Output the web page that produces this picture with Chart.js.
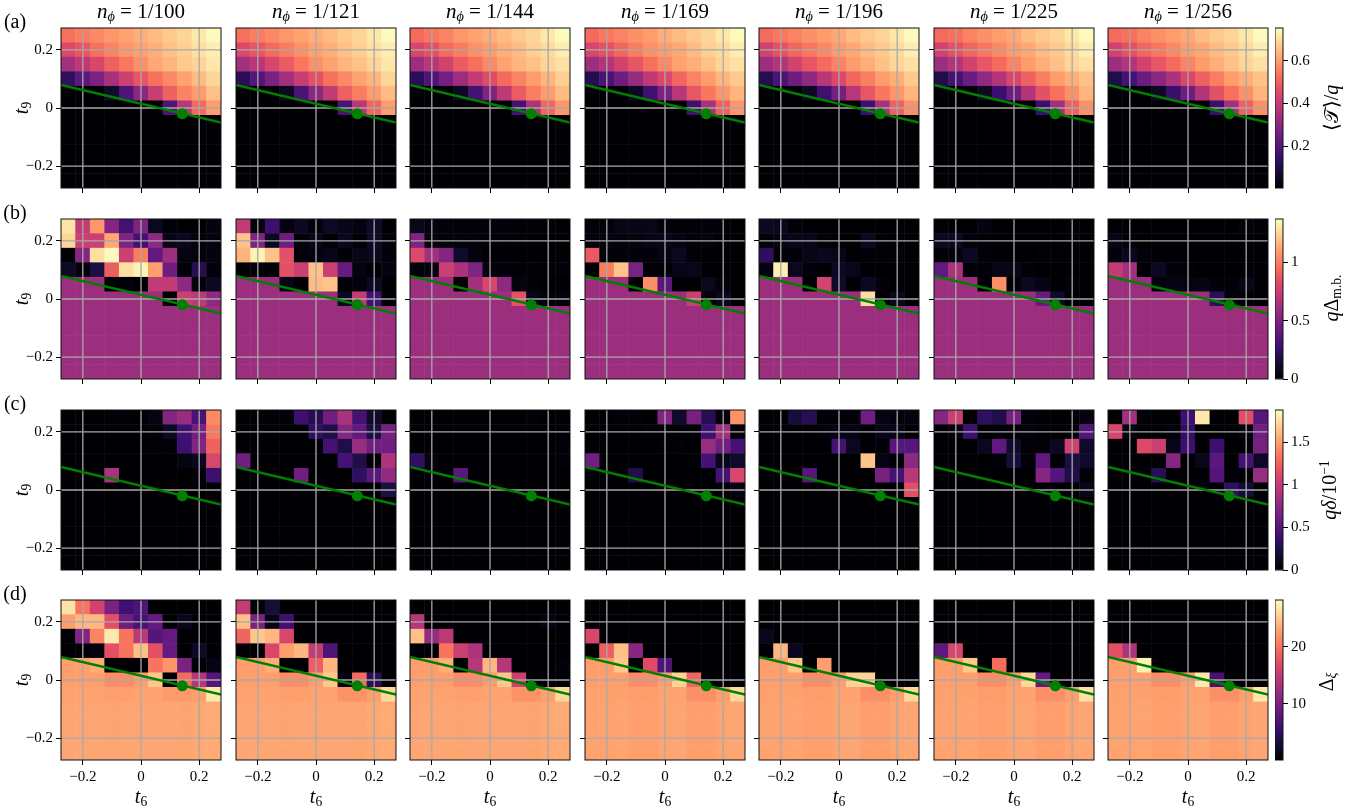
<!DOCTYPE html>
<html>
<head>
<meta charset="utf-8">
<title>Phase diagrams</title>
<script src="https://cdn.jsdelivr.net/npm/chart.js@4/dist/chart.umd.min.js"></script>
<style>
  html, body { margin: 0; padding: 0; background: #fff; }
  #figure { position: relative; width: 1367px; height: 810px; overflow: hidden; font-family: "Liberation Serif", serif; color: #000; }
  #figure canvas { position: absolute; }
  .lbl { position: absolute; white-space: nowrap; transform: translate(-50%, -50%); line-height: 1; }
  .rot { transform: translate(-50%, -50%) rotate(-90deg); }
  .lbl sub, .lbl sup { font-size: .68em; line-height: 0; }
  .lbl sub { vertical-align: -.25em; }
  .lbl sup { vertical-align: .5em; }
</style>
</head>
<body>
<div id="figure"></div>
<script>
// cell centres and ticks
const t6Cells = [-0.25, -0.2, -0.15, -0.1, -0.05, 0, 0.05, 0.1, 0.15, 0.2, 0.25];
const t9Cells = [0.25, 0.2, 0.15, 0.1, 0.05, 0, -0.05, -0.1, -0.15, -0.2, -0.25];
const axisLimits = [-0.275, 0.275];
const tickValues = [-0.2, 0, 0.2];
const xTickLabels = ['\u22120.2', '0', '0.2'];
const yTickLabels = ['\u22120.2', '0', '0.2'];
const fluxTitles = ['1/100', '1/121', '1/144', '1/169', '1/196', '1/225', '1/256'];
const rowTags = ['(a)', '(b)', '(c)', '(d)'];

// green phase boundary and marker
const boundaryT6 = [-0.275, 0.275];
const boundaryT9 = [0.079, -0.05];
const markerT6 = [0.142];
const markerT9 = [-0.02];

// colour bars
const barRanges = [[0.003, 0.755], [0, 1.37], [0, 1.88], [0.1, 28.2]];
const barTicks = [[0.2, 0.4, 0.6], [0, 0.5, 1], [0, 0.5, 1, 1.5], [10, 20]];
const barTickLabels = [['0.2', '0.4', '0.6'], ['0', '0.5', '1'], ['0', '0.5', '1', '1.5'], ['10', '20']];

const blank = [0, 0, 0, 0, 0, 0, 0, 0, 0, 0, 0];

// row (a): <T>/q
const trace100 = [
  [.53, .55, .57, .59, .61, .63, .65, .67, .69, .72, .75],
  [.45, .48, .53, .56, .59, .61, .63, .66, .68, .71, .73],
  [.34, .39, .44, .50, .54, .58, .62, .64, .67, .69, .72],
  [.13, .21, .27, .35, .42, .48, .53, .57, .61, .65, .69],
  [0, 0, 0, .06, .19, .30, .41, .50, .56, .60, .66],
  [0, 0, 0, 0, 0, 0, 0, .19, .38, .52, .60],
  blank, blank, blank, blank, blank];
const trace121 = [
  [.53, .55, .57, .59, .61, .63, .65, .67, .69, .72, .75],
  [.45, .48, .52, .55, .58, .61, .63, .66, .68, .71, .73],
  [.34, .38, .44, .49, .54, .58, .61, .64, .66, .69, .72],
  [.12, .20, .27, .34, .41, .47, .53, .57, .61, .64, .69],
  [0, 0, 0, .05, .18, .30, .40, .50, .55, .60, .65],
  [0, 0, 0, 0, 0, 0, 0, .18, .38, .51, .60],
  blank, blank, blank, blank, blank];
const trace144 = [
  [.52, .54, .56, .59, .61, .63, .65, .67, .69, .72, .75],
  [.44, .47, .52, .55, .58, .60, .63, .65, .68, .70, .73],
  [.33, .38, .43, .49, .53, .57, .61, .64, .66, .69, .71],
  [.12, .19, .26, .33, .40, .46, .52, .56, .60, .64, .68],
  [0, 0, 0, .05, .17, .28, .39, .49, .55, .60, .65],
  [0, 0, 0, 0, 0, 0, 0, .17, .36, .51, .59],
  blank, blank, blank, blank, blank];
const trace169 = [
  [.52, .54, .56, .58, .60, .63, .65, .67, .69, .72, .75],
  [.44, .47, .51, .55, .58, .60, .62, .65, .68, .70, .73],
  [.33, .37, .43, .48, .53, .57, .61, .63, .66, .69, .71],
  [.11, .18, .25, .32, .39, .45, .51, .56, .60, .64, .67],
  [0, 0, 0, .05, .16, .27, .38, .48, .54, .59, .64],
  [0, 0, 0, 0, 0, 0, 0, .16, .35, .50, .59],
  blank, blank, blank, blank, blank];
const trace196 = [
  [.52, .54, .56, .58, .60, .62, .65, .67, .69, .72, .75],
  [.43, .47, .51, .54, .57, .60, .62, .65, .67, .70, .73],
  [.33, .37, .43, .48, .52, .56, .60, .63, .66, .69, .71],
  [.11, .18, .25, .31, .38, .45, .51, .55, .60, .63, .67],
  [0, 0, 0, .05, .16, .26, .38, .48, .54, .59, .64],
  [0, 0, 0, 0, 0, 0, 0, .16, .35, .50, .58],
  blank, blank, blank, blank, blank];
const trace225 = [
  [.52, .53, .56, .58, .60, .62, .65, .67, .69, .72, .75],
  [.43, .47, .51, .54, .57, .60, .62, .65, .67, .70, .73],
  [.33, .37, .43, .48, .52, .56, .60, .63, .66, .69, .71],
  [.10, .17, .24, .31, .37, .44, .50, .55, .60, .63, .66],
  [0, 0, 0, .05, .15, .25, .37, .47, .53, .58, .64],
  [0, 0, 0, 0, 0, 0, 0, .15, .34, .50, .58],
  blank, blank, blank, blank, blank];
const trace256 = [
  [.52, .53, .56, .58, .60, .62, .65, .67, .69, .72, .75],
  [.43, .47, .51, .54, .57, .60, .62, .65, .67, .70, .73],
  [.33, .37, .43, .48, .52, .56, .60, .63, .66, .69, .71],
  [.10, .17, .24, .30, .36, .44, .50, .55, .60, .63, .66],
  [0, 0, 0, .05, .15, .25, .37, .47, .53, .58, .64],
  [0, 0, 0, 0, 0, 0, 0, .15, .34, .50, .58],
  blank, blank, blank, blank, blank];

// row (b): q Delta_m.b.
const gapLow = [.6, .6, .6, .6, .6, .6, .6, .6, .6, .6, .6];
const gap100 = [
  [1.30, .72, 1.07, .52, .30, .50, .07, .01, 0, 0, .03],
  [1.25, .75, .75, 1.12, .50, .30, .55, .05, .07, .01, .03],
  [0, .52, 1.28, 1.36, .75, 1.0, .40, .60, .04, .02, .03],
  [.09, .02, .16, .90, 1.28, 1.34, 1.10, .45, .01, .20, .02],
  [.6, .6, .6, 0, .02, 0, .72, .72, .55, .02, .08],
  [.6, .6, .6, .6, .6, .6, .6, 0, .75, .70, .55],
  gapLow, gapLow, gapLow, gapLow, gapLow];
const gap121 = [
  [.72, .02, .28, .03, .08, .02, .09, .05, .03, .10, 0],
  [1.20, .50, .08, .45, .02, .06, 0, .07, 0, .10, .02],
  [1.15, 1.34, 1.20, .85, .02, .03, .05, 0, .05, .07, .02],
  [0, .02, .01, .85, .75, 1.20, .75, .42, .03, 0, .03],
  [.6, .6, .6, .05, 0, 1.18, 1.20, .01, .02, .08, 0],
  [.6, .6, .6, .6, .6, .6, .6, .07, .72, .30, .01],
  gapLow, gapLow, gapLow, gapLow, gapLow];
const gap144 = [
  [.06, .03, .02, .01, .01, .02, .02, .01, .01, .01, 0],
  [.50, .03, .02, .02, .02, .01, .01, .01, 0, 0, 0],
  [.82, .62, .52, .11, .03, 0, 0, 0, 0, 0, 0],
  [.01, .03, .75, .65, .50, .03, .02, .01, .01, .01, .01],
  [.6, .6, .6, 0, .62, .80, .55, .03, .01, 0, 0],
  [.6, .6, .6, .6, .6, .6, .6, .85, .05, .02, .02],
  gapLow, gapLow, gapLow, gapLow, gapLow];
const gap169 = [
  [.01, .01, .05, .05, .06, .02, .01, .01, .02, .01, 0],
  [.01, .03, .02, .03, .05, .06, .03, .01, .03, 0, 0],
  [.88, .01, .02, .02, .02, .04, .07, .01, 0, 0, 0],
  [0, 1.0, 1.20, .48, .01, .01, .05, .06, 0, 0, 0],
  [.6, .6, .6, 0, 1.05, .38, 0, 0, .07, .02, 0],
  [.6, .6, .6, .6, .6, .6, .6, .75, .01, .07, 0],
  gapLow, gapLow, gapLow, gapLow, gapLow];
const gap196 = [
  [.08, .07, .02, 0, 0, 0, 0, 0, 0, 0, 0],
  [.01, .04, .06, .06, .01, 0, 0, .08, .01, 0, 0],
  [.23, .01, .01, .05, .07, .06, 0, .01, .01, .02, 0],
  [.03, 1.33, .07, .02, 0, .08, .06, 0, 0, 0, 0],
  [.6, .6, .6, 0, .78, .10, 0, .08, .02, 0, 0],
  [.6, .6, .6, .6, .6, .6, .6, 1.28, 0, .07, 0],
  gapLow, gapLow, gapLow, gapLow, gapLow];
const gap225 = [
  [.01, 0, 0, .03, 0, 0, 0, 0, 0, .01, 0],
  [.08, .08, .01, .01, 0, 0, 0, 0, 0, .01, 0],
  [.01, .03, .08, .01, 0, 0, 0, .01, .01, 0, 0],
  [.40, .65, .01, .01, .05, .05, .01, 0, 0, 0, 0],
  [.6, .6, .6, 0, 1.05, .01, .07, .04, 0, .02, 0],
  [.6, .6, .6, .6, .6, .6, .6, .42, .10, 0, 0],
  gapLow, gapLow, gapLow, gapLow, gapLow];
const gap256 = [
  [0, 0, 0, 0, 0, 0, 0, 0, 0, .02, .01],
  [.05, .01, 0, 0, 0, 0, 0, 0, 0, 0, 0],
  [.02, .07, .02, 0, 0, 0, 0, 0, 0, 0, 0],
  [.72, .62, 0, .08, .02, .01, 0, 0, 0, 0, 0],
  [.6, .6, .6, .02, .04, .03, .04, .02, .01, .05, 0],
  [.6, .6, .6, .6, .6, .6, .6, .22, .02, 0, 0],
  gapLow, gapLow, gapLow, gapLow, gapLow];

// row (c): q delta / 10^-1
const split100 = [
  [0, 0, 0, .01, .01, 0, .05, .70, .80, .45, 1.42],
  [0, 0, 0, 0, 0, 0, .01, .12, .40, .65, 1.35],
  [0, 0, 0, 0, 0, 0, .01, .01, .38, .70, 1.25],
  [0, 0, 0, 0, 0, 0, 0, 0, .05, .10, 1.10],
  [0, 0, 0, .88, 0, 0, 0, 0, 0, .01, .38],
  blank, blank, blank, blank, blank, blank];
const split121 = [
  [0, .01, .01, .02, .38, .28, .62, .88, .42, .15, 0],
  [0, 0, 0, 0, 0, .33, .25, .72, .55, .22, .65],
  [0, 0, 0, 0, 0, 0, .42, .25, .80, .62, .62],
  [.62, 0, 0, 0, 0, 0, 0, .42, .25, 0, .90],
  [0, 0, 0, 0, .62, 0, 0, 0, .32, .52, .78],
  [0, 0, 0, 0, 0, 0, 0, 0, 0, 0, .22],
  blank, blank, blank, blank, blank];
const split144 = [
  [0, 0, 0, 0, 0, 0, 0, 0, .01, 0, 0],
  blank,
  [0, 0, 0, 0, 0, 0, 0, 0, 0, 0, .01],
  [.33, .04, 0, 0, 0, 0, 0, 0, 0, 0, .01],
  [0, 0, 0, .52, 0, 0, 0, 0, 0, 0, 0],
  blank, blank, blank, blank, blank, blank];
const split169 = [
  [0, 0, .02, .01, 0, .70, .14, .65, .28, .02, 1.45],
  [0, 0, 0, 0, .01, .01, .01, .01, .38, .85, .02],
  [0, 0, 0, 0, 0, .01, .01, 0, .80, .62, .42],
  [.62, 0, 0, 0, 0, 0, 0, .01, .42, .08, .14],
  [0, 0, 0, .25, 0, 0, 0, 0, 0, .42, 1.10],
  [0, 0, 0, 0, 0, 0, 0, 0, 0, 0, .04],
  blank, blank, blank, blank, blank];
const split196 = [
  [0, 0, .20, .28, 0, .02, .02, .62, .06, .03, .04],
  [0, 0, 0, 0, .03, .06, .05, 0, .07, .07, 0],
  [0, 0, 0, 0, 0, .42, .10, 0, .02, .50, .50],
  [0, 0, 0, 0, 0, 0, 0, 1.65, .06, 0, .75],
  [0, 0, 0, .50, 0, 0, 0, 0, .65, .42, .95],
  [0, 0, 0, 0, 0, 0, 0, 0, 0, 0, 1.15],
  blank, blank, blank, blank, blank];
const split225 = [
  [.72, 1.03, 0, .32, .25, .65, .02, 0, 0, 0, .04],
  [0, .04, .38, 0, .02, .02, .03, 0, 0, .02, .48],
  [0, 0, 0, .10, .55, .15, .01, .02, .10, 1.05, .14],
  [0, 0, 0, 0, .01, .20, .01, .55, 0, .22, .14],
  [0, 0, 0, 0, 0, 0, 0, .72, .48, .25, .02],
  [0, 0, 0, 0, 0, 0, 0, 0, 0, 0, .08],
  blank, blank, blank, blank, blank];
const split256 = [
  [0, .85, .01, 0, 0, .38, 1.80, 0, 0, 1.15, .50],
  [1.10, .05, 0, 0, .03, .33, 0, 0, 0, .05, .62],
  [0, 0, 1.12, 1.03, .07, .38, 0, .38, 0, 0, .65],
  [0, 0, 0, 0, .72, 0, .08, .52, 0, .42, .12],
  [0, 0, 0, .28, 0, 0, 0, .48, .02, 0, .80],
  [0, 0, 0, 0, 0, 0, 0, 0, .32, .18, 0],
  blank, blank, blank, blank, blank];

// row (d): Delta_xi
const xiLowA = [23, 23, 23, 22.9, 23, 23, 23, 23, 22.9, 23.1, 23.2];
const xiLowB = [22.8, 22.8, 22.9, 22.6, 22.6, 22.9, 23, 22.5, 22.5, 22.9, 23];
const xi100 = [
  [26.6, 20, 16, 10, 6, 7, 0, 0, 0, 0, 0],
  [22.5, 24, 24, 17.5, 9, 6.5, 8.5, 0, 1.5, 0, 0],
  [0, 10.5, 21, 27, 20, 14.5, 7.5, 8.5, 0, 0, 0],
  [0, 0, .8, 17.5, 20, 24.5, 17.5, 8.5, 0, 2, 0],
  [22.5, 22.5, 23.5, 0, 0, 0, 20, 22, 10, 0, 1],
  [22.5, 22.5, 22.5, 21.5, 21.5, 22.5, 25, 0, 19.5, 14, 7.5],
  [22.8, 22.8, 22.8, 22.6, 22.6, 22.8, 22.8, 22.2, 22.2, 22.6, 27],
  xiLowA, xiLowA, xiLowA, xiLowA];
const xi121 = [
  [15, 0, 3, 0, 0, 0, 0, 0, 0, 0, 0],
  [24.5, 10, 1.2, 6, 0, 0, 0, 0, 0, 0, 0],
  [19, 25, 24, 16.5, 0, 0, 0, 0, 0, 0, 0],
  [0, 0, 16.5, 22.5, 24, 15, 7, 0, 0, 0, 0],
  [22.5, 22.5, 23.5, 0, 0, 18.5, 24, 0, 0, 0, 0],
  [22.5, 22.5, 22.5, 21.5, 21.5, 22.5, 25, .8, 19.5, 4.5, 0],
  [22.8, 22.8, 22.8, 22.6, 22.6, 22.8, 22.8, 21.8, 21.8, 22.6, 26],
  xiLowA, xiLowA, xiLowA, xiLowA];
const xi144 = [
  blank,
  [14, 0, 0, 0, 0, 0, 0, 0, 0, 1, 0],
  [24.5, 12, 14.5, 0, 0, 0, 0, 0, 0, 0, 0],
  [0, 0, 20, 15.5, 13.5, 0, 0, 0, 0, 0, 0],
  [22.5, 22.5, 23.5, 0, 14, 24, 14, 0, 0, 0, .5],
  [22.5, 22.5, 22.5, 21.5, 21.5, 22.5, 25, 15.5, 0, 0, 0],
  [22.8, 22.8, 22.8, 22.6, 22.6, 22.8, 22.8, 21.8, 21.8, 22.6, 26],
  xiLowA, xiLowA, xiLowA, xiLowA];
const xi169 = [
  blank, blank,
  [16.5, 0, 0, 0, 0, 0, 0, 0, 0, 0, 0],
  [0, 18.5, 24.5, 11, 0, 0, 0, 0, 0, 0, 0],
  [22.5, 22.5, 25, 0, 17, 7, 0, 0, 0, 0, 0],
  [22.5, 22.5, 22.5, 21.5, 21.5, 22.5, 25.5, 19, 0, 0, 0],
  [22.7, 22.7, 22.7, 22.4, 22.4, 22.8, 22.8, 21.6, 21.6, 22.5, 26],
  xiLowB, xiLowB, xiLowB, xiLowB];
const xi196 = [
  blank, blank,
  [1.5, 0, 0, 0, 0, 0, 0, 0, 0, 0, 0],
  [0, 24, 1.5, 0, 0, 0, 0, 0, 0, 0, 0],
  [22.5, 22.5, 25, 0, 22.5, 0, 0, 0, 0, 0, 0],
  [22.5, 22.5, 22.5, 21.5, 21.5, 22.5, 25.5, 25.5, 0, 0, 0],
  [22.7, 22.7, 22.7, 22.4, 22.4, 22.8, 22.8, 21.6, 21.6, 22.5, 26],
  xiLowB, xiLowB, xiLowB, xiLowB];
const xi225 = [
  blank, blank, blank,
  [8, 16.5, 0, 0, 0, 0, 0, 0, 0, 0, 0],
  [22.5, 22.5, 25, 0, 19.5, 0, 0, 0, 0, 0, 0],
  [22.5, 22.5, 22.5, 21.5, 21.5, 22.5, 26, 8.5, 0, 0, 0],
  [22.7, 22.7, 22.7, 22.4, 22.4, 22.8, 22.8, 21.6, 21.6, 22.5, 26.5],
  xiLowB, xiLowB, xiLowB, xiLowB];
const xi256 = [
  blank, blank, blank,
  [17.5, 13.5, 0, 0, 0, 0, 0, 0, 0, 0, 0],
  [22.5, 22.5, 27.5, 0, 0, 0, 0, 0, 0, 0, 0],
  [22.5, 22.5, 22.5, 21.5, 21.5, 22.5, 27, 6.5, 0, 0, 0],
  [22.7, 22.7, 22.7, 22.4, 22.4, 22.8, 22.8, 21.6, 21.6, 22.5, 27],
  xiLowB, xiLowB, xiLowB, xiLowB];

const panelValues = [
  [trace100, trace121, trace144, trace169, trace196, trace225, trace256],
  [gap100, gap121, gap144, gap169, gap196, gap225, gap256],
  [split100, split121, split144, split169, split196, split225, split256],
  [xi100, xi121, xi144, xi169, xi196, xi225, xi256]
];

// layout in page pixels
const panelLefts = [61, 236, 410, 585, 759, 934, 1108];
const panelTops = [28, 219, 410, 600];
const panelSize = 160;
const marginLeft = 46, marginTop = 6, marginRight = 6, marginBottom = 30;
const barLeft = 1275, barWidth = 8;
const serif = '"Liberation Serif", serif';

const figure = document.getElementById('figure');

// magma colour map, sampled every 0.1
const magmaStops = ['#000004', '#140e36', '#3b0f70', '#641a80', '#8c2981', '#b73779', '#de4968', '#f7705c', '#fe9f6d', '#fecf92', '#fcfdbf'];

function magma(f) {
  const p = Math.max(0, Math.min(1, f)) * 10;
  const i = Math.min(9, Math.floor(p));
  const a = parseInt(magmaStops[i].slice(1), 16);
  const b = parseInt(magmaStops[i + 1].slice(1), 16);
  const mix = (shift) => Math.round(((a >> shift) & 255) * (i + 1 - p) + ((b >> shift) & 255) * (p - i));
  return `rgb(${mix(16)},${mix(8)},${mix(0)})`;
}

// black frame round the axes, all four sides
const framePlugin = {
  id: 'frame',
  afterDraw(chart) {
    const a = chart.chartArea, ctx = chart.ctx;
    ctx.save();
    ctx.strokeStyle = '#111';
    ctx.lineWidth = 1;
    ctx.strokeRect(a.left, a.top, a.right - a.left, a.bottom - a.top);
    ctx.restore();
  }
};

// fixed axis size, and no extra room for labels that stick out past the ends
function fixAxis(scale, prop, size) {
  scale[prop] = size;
  scale.paddingTop = scale.paddingBottom = scale.paddingLeft = scale.paddingRight = 0;
}

function addCanvas(left, top, width, height) {
  const canvas = document.createElement('canvas');
  canvas.width = width;
  canvas.height = height;
  canvas.style.left = left + 'px';
  canvas.style.top = top + 'px';
  canvas.style.width = width + 'px';
  canvas.style.height = height + 'px';
  figure.appendChild(canvas);
  return canvas;
}

function addLabel(html, x, y, size, rotated) {
  const span = document.createElement('span');
  span.className = rotated ? 'lbl rot' : 'lbl';
  span.innerHTML = html;
  span.style.left = x + 'px';
  span.style.top = y + 'px';
  span.style.fontSize = size + 'px';
  figure.appendChild(span);
}

function axisOptions(labels, showLabels, fixSize) {
  return {
    type: 'linear',
    min: axisLimits[0],
    max: axisLimits[1],
    afterBuildTicks: (scale) => { scale.ticks = tickValues.map(v => ({ value: v })); },
    afterFit: fixSize,
    border: { display: false },
    grid: { drawOnChartArea: false, tickColor: '#000', tickLength: 5, tickWidth: 1 },
    ticks: {
      display: showLabels,
      autoSkip: false,
      maxRotation: 0,
      padding: 3,
      color: '#000',
      font: { family: serif, size: 15 },
      callback: (value, index) => labels[index]
    }
  };
}

function drawPanel(rowIdx, colIdx) {
  const [vmin, vmax] = barRanges[rowIdx];
  const values = panelValues[rowIdx][colIdx];
  const cells = [], colours = [];
  t9Cells.forEach((y, r) => {
    t6Cells.forEach((x, c) => {
      cells.push({ x: x, y: y });
      colours.push(magma((values[r][c] - vmin) / (vmax - vmin)));
    });
  });

  const gridLine = (points) => ({
    type: 'scatter', data: points, showLine: true, order: 3,
    borderColor: '#a9a9a9', borderWidth: 1.3, pointRadius: 0
  });
  const gridSets = [];
  tickValues.forEach(t => {
    gridSets.push(gridLine(axisLimits.map(v => ({ x: t, y: v }))));
    gridSets.push(gridLine(axisLimits.map(v => ({ x: v, y: t }))));
  });

  const canvas = addCanvas(panelLefts[colIdx] - marginLeft, panelTops[rowIdx] - marginTop,
    marginLeft + panelSize + marginRight, marginTop + panelSize + marginBottom);

  new Chart(canvas.getContext('2d'), {
    type: 'scatter',
    data: {
      datasets: [
        {
          data: cells, order: 4, pointStyle: 'rect',
          backgroundColor: colours, pointBackgroundColor: colours, borderWidth: 0, pointBorderWidth: 0,
          // rect point half width is radius * sqrt(1/2); slight overlap hides the seams
          pointRadius: (ctx) => {
            const xs = ctx.chart.scales.x;
            return (Math.abs(xs.getPixelForValue(0.05) - xs.getPixelForValue(0)) + 0.5) / 2 * Math.SQRT2;
          }
        },
        ...gridSets,
        {
          data: boundaryT6.map((x, i) => ({ x: x, y: boundaryT9[i] })), order: 2, showLine: true,
          borderColor: '#008000', borderWidth: 2.5, pointRadius: 0
        },
        {
          data: markerT6.map((x, i) => ({ x: x, y: markerT9[i] })), order: 1,
          backgroundColor: '#008000', pointBackgroundColor: '#008000', pointBorderWidth: 0, pointRadius: 5.5
        }
      ]
    },
    options: {
      responsive: false,
      animation: false,
      events: [],
      layout: { padding: { top: marginTop, right: marginRight, left: 0, bottom: 0 } },
      plugins: { legend: { display: false }, tooltip: { enabled: false } },
      scales: {
        x: axisOptions(xTickLabels, rowIdx === 3, (s) => fixAxis(s, 'height', marginBottom)),
        y: axisOptions(yTickLabels, colIdx === 0, (s) => fixAxis(s, 'width', marginLeft))
      }
    },
    plugins: [framePlugin]
  });
}

function drawColourBar(rowIdx) {
  const [vmin, vmax] = barRanges[rowIdx];
  const canvas = addCanvas(barLeft, panelTops[rowIdx] - marginTop, barWidth + 50, marginTop + panelSize + marginBottom);
  new Chart(canvas.getContext('2d'), {
    type: 'bar',
    data: {
      labels: [''],
      datasets: [{
        data: [[vmin, vmax]],
        barPercentage: 1,
        categoryPercentage: 1,
        backgroundColor: (ctx) => {
          const area = ctx.chart.chartArea;
          if (!area) return '#000';
          const g = ctx.chart.ctx.createLinearGradient(0, area.bottom, 0, area.top);
          magmaStops.forEach((c, i) => g.addColorStop(i / 10, c));
          return g;
        }
      }]
    },
    options: {
      responsive: false,
      animation: false,
      events: [],
      layout: { padding: { top: marginTop, bottom: marginBottom, left: 0, right: 0 } },
      plugins: { legend: { display: false }, tooltip: { enabled: false } },
      scales: {
        x: { display: false },
        y: {
          position: 'right',
          min: vmin,
          max: vmax,
          afterBuildTicks: (scale) => { scale.ticks = barTicks[rowIdx].map(v => ({ value: v })); },
          afterFit: (s) => fixAxis(s, 'width', 50),
          border: { display: false },
          grid: { drawOnChartArea: false, tickColor: '#000', tickLength: 5, tickWidth: 1 },
          ticks: {
            autoSkip: false,
            padding: 3,
            color: '#000',
            font: { family: serif, size: 15 },
            callback: (value, index) => barTickLabels[rowIdx][index]
          }
        }
      }
    },
    plugins: [framePlugin]
  });
}

panelTops.forEach((top, r) => {
  panelLefts.forEach((left, c) => drawPanel(r, c));
  drawColourBar(r);
  addLabel(rowTags[r], 15, top - 7, 20);
  addLabel('<i>t</i><sub>9</sub>', 21, top + 80, 20, true);
});

panelLefts.forEach((left, c) => {
  addLabel(`<i>n</i><sub><i>\u03d5</i></sub> = ${fluxTitles[c]}`, left + 80, 11, 21);
  addLabel('<i>t</i><sub>6</sub>', left + 80, 796, 20);
});

addLabel('\u27e8<span style="font-family:\'DejaVu Sans\'">\ud835\udcaf</span>\u27e9/<i>q</i>', 1331, 108, 20, true);
addLabel('<i>q</i>\u0394<sub>m.b.</sub>', 1331, 298, 20, true);
addLabel('<i>q\u03b4</i>/10<sup>\u22121</sup>', 1329, 490, 20, true);
addLabel('\u0394<sub><i>\u03be</i></sub>', 1326, 682, 20, true);
</script>
</body>
</html>
